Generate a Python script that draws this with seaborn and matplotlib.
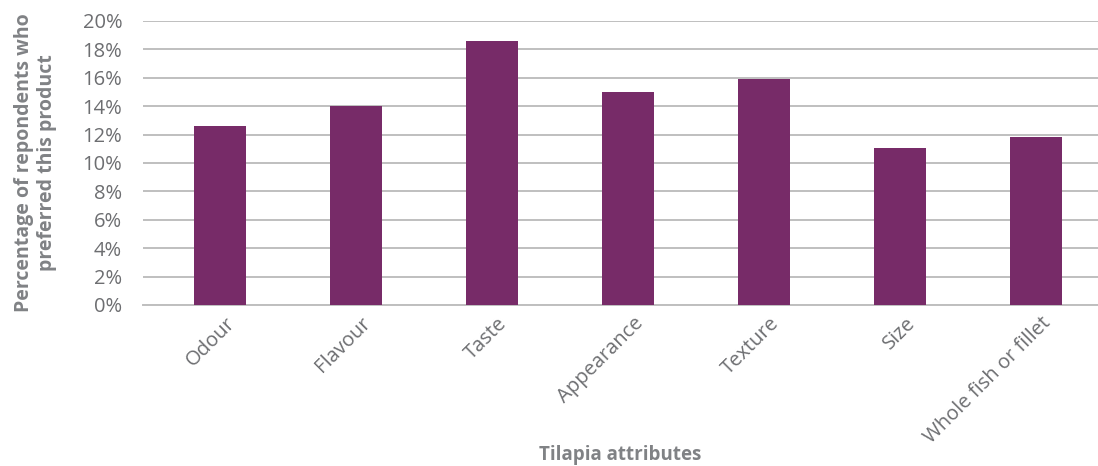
import matplotlib
matplotlib.use("Agg")
import matplotlib.pyplot as plt
import seaborn as sns
import pandas as pd
from matplotlib.ticker import FuncFormatter, MultipleLocator
from matplotlib.transforms import ScaledTranslation

attributes = ["Odour", "Flavour", "Taste", "Appearance", "Texture", "Size", "Whole fish or fillet"]
preference_pct = [12.6, 14.0, 18.6, 15.0, 15.9, 11.05, 11.8]

df = pd.DataFrame({"attribute": attributes, "pct": preference_pct})

sns.set_theme(style="white")
plt.rcParams["font.family"] = ["Open Sans", "DejaVu Sans"]

fig = plt.figure(figsize=(10.98, 4.66), dpi=100)
ax = fig.add_axes([143 / 1098, 161 / 466, (1098 - 143) / 1098, (305 - 21) / 466])

sns.barplot(data=df, x="attribute", y="pct", color="#772B68", saturation=1,
            width=0.382, linewidth=0, ax=ax, zorder=3)

ax.set_ylim(0, 20)
ax.set_xlim(-0.566, 6.456)
ax.yaxis.set_major_locator(MultipleLocator(2))
ax.yaxis.set_major_formatter(FuncFormatter(lambda v, p: f"{v:.0f}%"))
ax.grid(axis="y", color="#BFBFBF", linewidth=1.4, zorder=0)
ax.grid(axis="x", visible=False)
for side in ["top", "right", "left"]:
    ax.spines[side].set_visible(False)
ax.spines["bottom"].set_color("#BFBFBF")
ax.spines["bottom"].set_linewidth(1.4)
ax.spines["bottom"].set_zorder(1)

ax.tick_params(axis="y", length=0, pad=15, labelsize=14.5, labelcolor="#6D6E71")
ax.tick_params(axis="x", length=0, pad=6, labelsize=14.5, labelcolor="#6D6E71")
shift = ScaledTranslation(5 / 100, 0, fig.dpi_scale_trans)
for lbl in ax.get_xticklabels():
    lbl.set_rotation(45)
    lbl.set_ha("right")
    lbl.set_va("top")
    lbl.set_rotation_mode("anchor")
    lbl.set_transform(lbl.get_transform() + shift)

ax.set_ylabel("Percentage of repondents who\npreferred this product",
              fontsize=14, fontweight="bold", color="#808285",
              linespacing=1.15)
ax.yaxis.set_label_coords(-0.0905, 0.5)
ax.set_xlabel("Tilapia attributes", fontsize=13.5, fontweight="bold",
              color="#808285", va="center")
ax.xaxis.set_label_coords(0.5, -0.528)

fig.savefig("out.png", dpi=100)
